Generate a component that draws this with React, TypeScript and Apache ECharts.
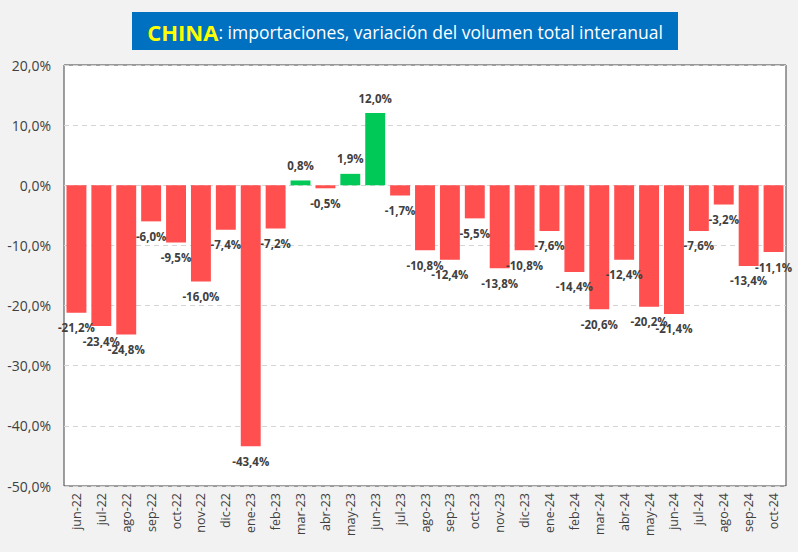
import React, { useEffect, useRef } from "react";
import * as echarts from "echarts";

const categories = [
  "jun-22", "jul-22", "ago-22", "sep-22", "oct-22", "nov-22", "dic-22",
  "ene-23", "feb-23", "mar-23", "abr-23", "may-23", "jun-23", "jul-23",
  "ago-23", "sep-23", "oct-23", "nov-23", "dic-23", "ene-24", "feb-24",
  "mar-24", "abr-24", "may-24", "jun-24", "jul-24", "ago-24", "sep-24", "oct-24",
];
const values = [
  -21.2, -23.4, -24.8, -6.0, -9.5, -16.0, -7.4, -43.4, -7.2, 0.8, -0.5, 1.9,
  12.0, -1.7, -10.8, -12.4, -5.5, -13.8, -10.8, -7.6, -14.4, -20.6, -12.4,
  -20.2, -21.4, -7.6, -3.2, -13.4, -11.1,
];
const yMin = -50;
const yMax = 20;
const yStep = 10;

const fmt = (v: number) => v.toFixed(1).replace(".", ",") + "%";

export default function App() {
  const ref = useRef<HTMLDivElement>(null);
  useEffect(() => {
    if (!ref.current) return;
    const chart = echarts.init(ref.current, null, { renderer: "svg" });
    const font = "'Open Sans', 'Noto Sans', sans-serif";
    chart.setOption({
      animation: false,
      backgroundColor: "#f2f2f2",
      textStyle: { fontFamily: font },
      graphic: [
        {
          type: "rect",
          shape: { x: 132, y: 12, width: 546, height: 38 },
          style: { fill: "#0070C0" },
        },
        {
          type: "text",
          x: 405,
          y: 32,
          style: {
            text: "{a|CHINA}{b|: importaciones, variación del volumen total interanual}",
            align: "center",
            verticalAlign: "middle",
            rich: {
              a: { fontSize: 22, fontWeight: "bold", fill: "#FFFF00", fontFamily: font },
              b: { fontSize: 17.5, fill: "#ffffff", fontFamily: font },
            },
          },
        },
      ],
      grid: {
        left: 64,
        right: 12,
        top: 65,
        bottom: 66,
        show: true,
        backgroundColor: "#ffffff",
        borderColor: "#404040",
        borderWidth: 1,
      },
      xAxis: {
        type: "category",
        data: categories,
        axisLine: { show: false },
        axisTick: { show: false },
        axisLabel: {
          rotate: 90,
          interval: 0,
          fontSize: 12.5,
          color: "#404040",
          margin: 7,
          fontFamily: font,
        },
      },
      yAxis: {
        type: "value",
        min: yMin,
        max: yMax,
        interval: yStep,
        axisLine: { show: false },
        axisTick: { show: false },
        axisLabel: {
          fontSize: 14,
          color: "#404040",
          margin: 13,
          formatter: (v: number) => fmt(v),
          fontFamily: font,
        },
        splitLine: { lineStyle: { color: "#d4d4d4", type: [5, 4], width: 1 } },
      },
      series: [
        {
          type: "bar",
          barWidth: "80%",
          data: values.map((v) => ({
            value: v,
            itemStyle: { color: v >= 0 ? "#00C957" : "#FF4F4F" },
            label: {
              show: true,
              position: v >= 0 ? "top" : "bottom",
              distance: 9,
              formatter: fmt(v),
              fontSize: 11.5,
              fontWeight: "bold",
              color: "#404040",
              fontFamily: font,
            },
          })),
        },
      ],
    });
    return () => chart.dispose();
  }, []);
  return (
    <div
      ref={ref}
      style={{ position: "fixed", left: 0, top: 0, width: 798, height: 552 }}
    />
  );
}
